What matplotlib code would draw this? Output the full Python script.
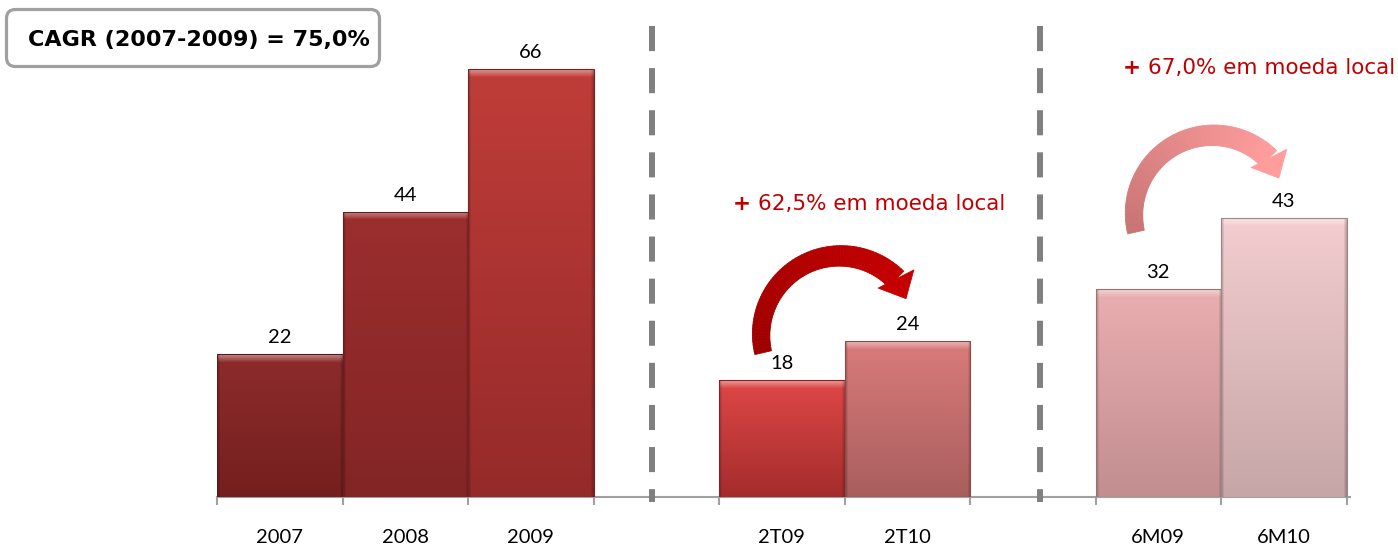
import matplotlib
matplotlib.use("Agg")
import matplotlib.pyplot as plt
import numpy as np
from matplotlib import colors as mcolors, transforms as mtransforms
from matplotlib.collections import PolyCollection
from matplotlib.patches import FancyBboxPatch

# data
categories = ["2007", "2008", "2009", "2T09", "2T10", "6M09", "6M10"]
values = [22, 44, 66, 18, 24, 32, 43]
slots = [0, 1, 2, 4, 5, 7, 8]          # slots 3 and 6 are the gaps with the dashed separators
top_colors = ["#8E2B2B", "#9C2E2E", "#C03D39", "#DF4747", "#D97B7B", "#E9AEB0", "#F3CDCF"]
bottom_colors = ["#741F1F", "#832525", "#952A2A", "#A52C2C", "#A95E5E", "#C28E90", "#C6A6A7"]
growth_labels = ["62,5% em moeda local", "67,0% em moeda local"]
cagr_label = "CAGR (2007-2009) = 75,0%"

RED = "#C00000"
GREY = "#A0A0A0"
W, H = 1398, 545

fig = plt.figure(figsize=(W / 100, H / 100), dpi=100)
ax = fig.add_axes([217 / W, 48 / H, 1133.3 / W, 466.9 / H])
ax.set_xlim(-0.5, 8.53)
ax.set_ylim(0, 72)


def bar_image(top, bottom, h_px, w_px):
    t = np.array(mcolors.to_rgb(top))
    b = np.array(mcolors.to_rgb(bottom))
    f = np.linspace(0, 1, h_px)[:, None]
    col = t * (1 - f) + b * f
    img = np.repeat(col[:, None, :], w_px, axis=1)
    # lighter bevel on top
    k = min(9, h_px)
    hl = np.linspace(0.45, 0.0, k)[:, None, None]
    img[:k] = img[:k] * (1 - hl) + hl
    # darker sides
    e = 4
    sh = np.linspace(0.22, 0.0, e)[None, :, None]
    img[:, :e] *= 1 - sh
    img[:, -e:] *= 1 - sh[:, ::-1]
    return np.clip(img, 0, 1)


bars = ax.bar(slots, values, width=1.0, color=top_colors, edgecolor="none", zorder=2)
y0 = ax.transData.transform((0, 0))[1]
for rect, tc, bc in zip(bars, top_colors, bottom_colors):
    x0, w, h = rect.get_x(), rect.get_width(), rect.get_height()
    h_px = int(round(ax.transData.transform((0, h))[1] - y0))
    img = bar_image(tc, bc, max(h_px, 2), 125)
    im = ax.imshow(img, extent=[x0, x0 + w, 0, h], aspect="auto", origin="upper",
                   zorder=3, interpolation="bilinear")
    im.set_clip_path(rect)
    edge = np.array(mcolors.to_rgb(bc)) * 0.8
    ax.add_patch(plt.Rectangle((x0, 0), w, h, fill=False, ec=edge, lw=0.8, zorder=4))

for s, v in zip(slots, values):
    ax.annotate(str(v), xy=(s, v), xytext=(0, 8), textcoords="offset points",
                ha="center", va="baseline", fontsize=14.5, family="Lato", color="black")

ax.set_xlim(-0.5, 8.53)
ax.set_ylim(0, 72)

# axis styling
for sp in ["top", "right", "left"]:
    ax.spines[sp].set_visible(False)
ax.spines["bottom"].set_color(GREY)
ax.spines["bottom"].set_linewidth(1.5)
ax.set_yticks([])
ax.set_xticks(slots)
ax.set_xticklabels(categories, fontsize=14.5, family="Lato")
ax.tick_params(axis="x", which="major", length=0, pad=23)
ax.set_xticks(np.arange(-0.5, 9, 1.0), minor=True)
ax.tick_params(axis="x", which="minor", length=6, width=1.5, color=GREY, direction="out")

# dashed separators
for xs in [2.966, 6.058]:
    ax.plot([xs, xs], [72.6, -0.8], color="#808080", lw=4.3, dashes=(4.2, 2.85),
            dash_capstyle="butt", solid_capstyle="butt", clip_on=False, zorder=5)


def curved_arrow(x, y, c_tail, c_head):
    cx, cy = ax.transData.transform((x, y))
    r = 79
    n = 70
    th = np.radians(np.linspace(193, 45, n))
    wid = np.linspace(17, 22, n)
    ct = np.array(mcolors.to_rgb(c_tail))
    ch = np.array(mcolors.to_rgb(c_head))
    verts, cols = [], []
    for i in range(n - 1):
        a0, a1 = th[i], th[i + 1]
        ri0, ro0 = r - wid[i] / 2, r + wid[i] / 2
        ri1, ro1 = r - wid[i + 1] / 2, r + wid[i + 1] / 2
        verts.append([(cx + ri0 * np.cos(a0), cy + ri0 * np.sin(a0)),
                      (cx + ro0 * np.cos(a0), cy + ro0 * np.sin(a0)),
                      (cx + ro1 * np.cos(a1), cy + ro1 * np.sin(a1)),
                      (cx + ri1 * np.cos(a1), cy + ri1 * np.sin(a1))])
        f = i / (n - 2)
        cols.append(ct * (1 - f) + ch * f)
    a = np.radians(45)
    phi = np.radians(27)
    bx, by = cx + r * np.cos(a), cy + r * np.sin(a)
    half, L = 20, 22
    verts.append([(bx - half * np.cos(phi), by - half * np.sin(phi)),
                  (bx + half * np.cos(phi), by + half * np.sin(phi)),
                  (bx + L * np.sin(phi), by - L * np.cos(phi))])
    cols.append(ch)
    pc = PolyCollection(verts, facecolors=cols, edgecolors=cols, linewidths=0.6,
                        transform=mtransforms.IdentityTransform(), zorder=6)
    ax.add_collection(pc, autolim=False)


curved_arrow((slots[3] + slots[4]) / 2 - 0.035, values[4] + 1, "#9E0000", "#C40000")
curved_arrow((slots[5] + slots[6]) / 2 - 0.064, values[6] + 0.6, "#C87474", "#FF9D9D")

# growth labels
for (xl, yl), txt in zip([(3.61, 45.2), (6.72, 66.2)], growth_labels):
    ax.text(xl, yl, "+", color=RED, fontsize=15.5, fontweight="bold", ha="left", va="center")
    ax.annotate(txt, xy=(xl, yl), xytext=(18, 0), textcoords="offset points",
                color=RED, fontsize=15.5, ha="left", va="center", annotation_clip=False)

# CAGR box
box = FancyBboxPatch((6.5, H - 66.5), 373, 57, boxstyle="round,pad=0,rounding_size=9",
                     transform=mtransforms.IdentityTransform(), lw=2.3, ec=GREY, fc="white")
fig.add_artist(box)
fig.text(199 / W, 1 - 40 / H, cagr_label, ha="center", va="center",
         fontsize=16, fontweight="bold", color="black")

fig.savefig("out.png", dpi=100)
